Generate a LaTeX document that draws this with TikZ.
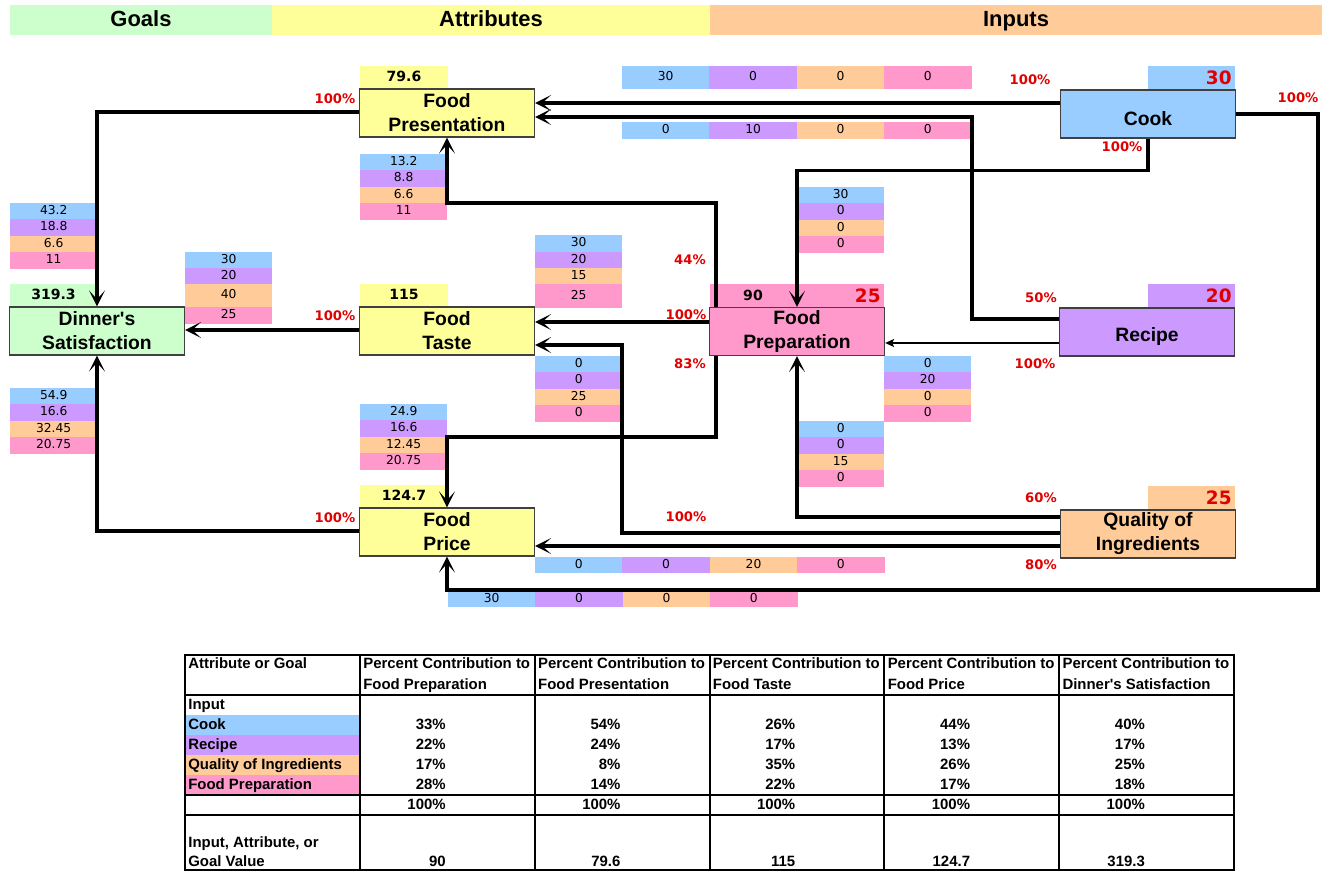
\documentclass[tikz,border=0pt]{standalone}
\usepackage{fontspec}
\setmainfont{Liberation Sans}
\newfontfamily\verd{DejaVu Sans}
\usetikzlibrary{arrows.meta}

\definecolor{in1}{HTML}{99CCFF}
\definecolor{in2}{HTML}{CC99FF}
\definecolor{in3}{HTML}{FFCC99}
\definecolor{in4}{HTML}{FF99CC}
\definecolor{goalc}{HTML}{CCFFCC}
\definecolor{attrc}{HTML}{FFFF99}
\definecolor{pctred}{HTML}{E00000}

\tikzset{
  box/.style={draw=black!75, line width=0.8pt, minimum width=3.5cm, minimum height=0.96cm, inner sep=0pt, align=center, font=\bfseries\fontsize{11}{13.7}\selectfont},
  cell/.style={inner sep=0pt, minimum width=1.748cm, minimum height=0.328cm, text height=5pt, text depth=1.4pt, font=\verd\fontsize{7}{8}\selectfont},
  tag/.style={inner sep=0pt, minimum width=1.748cm, minimum height=0.47cm, text height=6pt, text depth=1pt, font=\verd\bfseries\fontsize{8}{9}\selectfont},
  big/.style={anchor=east, inner sep=0pt, text height=7.5pt, text depth=0pt, text=pctred, font=\verd\bfseries\fontsize{10.5}{12}\selectfont},
  pct/.style={inner sep=0pt, text height=5.5pt, text depth=0pt, text=pctred, font=\verd\bfseries\fontsize{7.5}{9}\selectfont},
  head/.style={inner sep=0pt, minimum height=0.6cm, text height=9pt, text depth=1.5pt, font=\bfseries\fontsize{12.5}{14}\selectfont},
  tab/.style={inner sep=0pt, text height=6.2pt, text depth=1.6pt, font=\bfseries\fontsize{8.5}{10}\selectfont},
  flow/.style={line width=1.8pt, -{Stealth[length=9pt,width=9pt,inset=5pt]}},
  thinflow/.style={line width=1.5pt, -{Stealth[length=5pt,width=4.5pt,inset=1pt]}},
  grid/.style={line width=0.8pt},
}

% four input cells stacked, or in a row
\newcommand{\vstack}[4]{%
  \foreach \v [count=\i] in {#4}
    \node[cell, fill=in\i] (#1-\i) at (#2+43.7, #3+\i*16.4-8.2) {\v};}
\newcommand{\hrow}[5]{%
  \foreach \v [count=\i] in {#5}
    \node[cell, fill=in\i, minimum height=#4*0.02cm] (#1-\i) at (#2+\i*87.4-43.7, #3+#4/2) {\v};}
\newcommand{\low}[1]{\raisebox{-2.5pt}[\height][\depth]{#1}}

\begin{document}
\begin{tikzpicture}[x=0.02cm, y=-0.02cm]
	%%%%% START %%%%%
	\useasboundingbox (0,0) rectangle (1325,871);

	\node[head, fill=goalc, minimum width=5.24cm] (goals) at (141,20) {Goals};
	\node[head, fill=attrc, minimum width=8.76cm] (attrs) at (491,20) {Attributes};
	\node[head, fill=in3, minimum width=12.24cm] (inputs) at (1016,20) {Inputs};

	% value tags
	\node[tag, fill=goalc] (din-val) at (53.5,295.5) {319.3};
	\node[tag, fill=attrc] (prs-val) at (404,77.5) {79.6};
	\node[tag, fill=attrc] (tst-val) at (404,295.5) {115};
	\node[tag, fill=attrc] (prc-val) at (404,496.5) {124.7};
	\node[tag, fill=in4, minimum width=3.5cm] (prep-tag) at (797,296) {};
	\node[tag] (prep-val) at (753,296) {90};
	\node[big] (prep-in) at (881,296) {25};
	\node[tag, fill=in1] (cook-tag) at (1191.5,78) {};
	\node[big] (cook-in) at (1232,78) {30};
	\node[tag, fill=in2] (recipe-tag) at (1191.5,296) {};
	\node[big] (recipe-in) at (1232,296) {20};
	\node[tag, fill=in3] (qual-tag) at (1191.5,498) {};
	\node[big] (qual-in) at (1232,498) {25};

	% contribution cells
	\vstack{prs-st}{360}{154}{13.2,8.8,6.6,11}
	\vstack{din-up}{10}{203}{43.2,18.8,6.6,11}
	\vstack{din-lo}{10}{388}{54.9,16.6,32.45,20.75}
	\vstack{prc-st}{360}{404}{24.9,16.6,12.45,20.75}
	\vstack{qt-st}{535}{356}{0,0,25,0}
	\vstack{cp-st}{797}{187}{30,0,0,0}
	\vstack{rp-st}{884}{356}{0,20,0,0}
	\vstack{qp-st}{797}{421}{0,0,15,0}
	\hrow{cf-row}{622}{66}{23}{30,0,0,0}
	\hrow{rf-row}{622}{122}{17}{0,10,0,0}
	\hrow{qc-row}{535}{557}{16}{0,0,20,0}
	\hrow{cc-row}{448}{591}{16}{30,0,0,0}

	\node[cell, fill=in1] (td-1) at (228.7,260) {30};
	\node[cell, fill=in2] (td-2) at (228.7,276) {20};
	\node[cell, fill=in3, minimum height=0.46cm] (td-3) at (228.7,295.5) {40};
	\node[cell, fill=in4, minimum height=0.34cm] (td-4) at (228.7,315.5) {25};

	\node[cell, fill=in1, minimum height=0.34cm] (pt-1) at (578.7,243.5) {30};
	\node[cell, fill=in2] (pt-2) at (578.7,260) {20};
	\node[cell, fill=in3] (pt-3) at (578.7,276) {15};
	\node[cell, fill=in4, minimum height=0.48cm] (pt-4) at (578.7,296) {25};

	% boxes
	\node[box, fill=goalc] (din) at (97,331) {Dinner\textquotesingle s\\Satisfaction};
	\node[box, fill=attrc] (prs) at (447,113) {Food\\Presentation};
	\node[box, fill=attrc] (tst) at (447,331) {Food\\Taste};
	\node[box, fill=attrc] (prc) at (447,532) {Food\\Price};
	\node[box, fill=in4] (prep) at (797,331.5) {Food\\Preparation};
	\node[box, fill=in1] (cook) at (1148,114) {\low{Cook}};
	\node[box, fill=in2] (recipe) at (1147,332) {\low{Recipe}};
	\node[box, fill=in3] (qual) at (1148,534) {Quality of\\Ingredients};

	% connectors
	\draw[flow] (cook.west |- 0,103) -- (prs.east |- 0,103);
	\draw[flow] (recipe.west |- 0,319) -| (972,117) -- (prs.east |- 0,117);
	\draw[flow] (cook.south) -- ++(0,32) -| (prep.north);
	\draw[flow] (cook.east) -| (1318,590) -| (prc.south);
	\draw[thinflow] (recipe.west |- 0,343) -- (prep.east |- 0,343);
	\draw[flow] (qual.west |- 0,517) -| (prep.south);
	\draw[flow] (qual.west |- 0,533) -| (622,345) -- (tst.east |- 0,345);
	\draw[flow] (qual.west |- 0,546) -- (prc.east |- 0,546);
	\draw[flow] (prep.west |- 0,322) -- (tst.east |- 0,322);
	\draw[flow] (prep.north -| 716,0) |- (447,203) -- (prs.south);
	\draw[flow] (prep.south -| 716,0) |- (447,437) -- (prc.north);
	\draw[flow] (prs.west |- 0,112) -| (din.north);
	\draw[flow] (tst.west |- 0,330) -- (din.east |- 0,330);
	\draw[flow] (prc.west |- 0,531) -| (din.south);

	\node[pct] (l-pd) at (335,99) {100\%};
	\node[pct] (l-td) at (335,316) {100\%};
	\node[pct] (l-cd) at (335,518) {100\%};
	\node[pct] (l-cf) at (1030,80) {100\%};
	\node[pct] (l-cc) at (1298,98) {100\%};
	\node[pct] (l-cp) at (1122,147) {100\%};
	\node[pct] (l-rf) at (1041,298) {50\%};
	\node[pct] (l-rp) at (1035,364) {100\%};
	\node[pct] (l-qp) at (1041,498) {60\%};
	\node[pct] (l-qc) at (1041,565) {80\%};
	\node[pct] (l-qt) at (686,517) {100\%};
	\node[pct] (l-pf) at (690,260) {44\%};
	\node[pct] (l-pt) at (686,315) {100\%};
	\node[pct] (l-pc) at (690,364) {83\%};

	% table
	\fill[in1] (185,715) rectangle (360,735);
	\fill[in2] (185,735) rectangle (360,755);
	\fill[in3] (185,755) rectangle (360,775);
	\fill[in4] (185,775) rectangle (360,795);
	\draw[grid] (185,655) rectangle (1234,870);
	\foreach \x in {360,535,710,884,1059} \draw[grid] (\x,655) -- (\x,870);
	\foreach \y in {695,795,815} \draw[grid] (185,\y) -- (1234,\y);

	\node[tab, anchor=west] (t-hd) at (188,664) {Attribute or Goal};
	\node[tab, anchor=west] (t-in) at (188,705) {Input};
	\node[tab, anchor=west] (t-1) at (188,725) {Cook};
	\node[tab, anchor=west] (t-2) at (188,745) {Recipe};
	\node[tab, anchor=west] (t-3) at (188,765) {Quality of Ingredients};
	\node[tab, anchor=west] (t-4) at (188,785) {Food Preparation};
	\node[tab, anchor=west] (t-g1) at (188,843) {Input, Attribute, or};
	\node[tab, anchor=west] (t-g2) at (188,862) {Goal Value};

	\foreach \hd/\a/\b/\c/\d/\val [count=\i] in {Food Preparation/33/22/17/28/90, Food Presentation/54/24/8/14/79.6, Food Taste/26/17/35/22/115, Food Price/44/13/26/17/124.7, Dinner\textquotesingle s Satisfaction/40/17/25/18/319.3} {
		\pgfmathsetmacro\cx{360+(\i-1)*174.8}
		\node[tab, anchor=west] (h\i-1) at (\cx+3,664) {Percent Contribution to};
		\node[tab, anchor=west] (h\i-2) at (\cx+3,685) {\hd};
		\node[tab, anchor=east] (p\i-1) at (\cx+86,725) {\a\%};
		\node[tab, anchor=east] (p\i-2) at (\cx+86,745) {\b\%};
		\node[tab, anchor=east] (p\i-3) at (\cx+86,765) {\c\%};
		\node[tab, anchor=east] (p\i-4) at (\cx+86,785) {\d\%};
		\node[tab, anchor=east] (p\i-t) at (\cx+86,805) {100\%};
		\node[tab, anchor=east] (v\i) at (\cx+86,862) {\val};
	}
	%%%%% END %%%%%
\end{tikzpicture}
\end{document}
